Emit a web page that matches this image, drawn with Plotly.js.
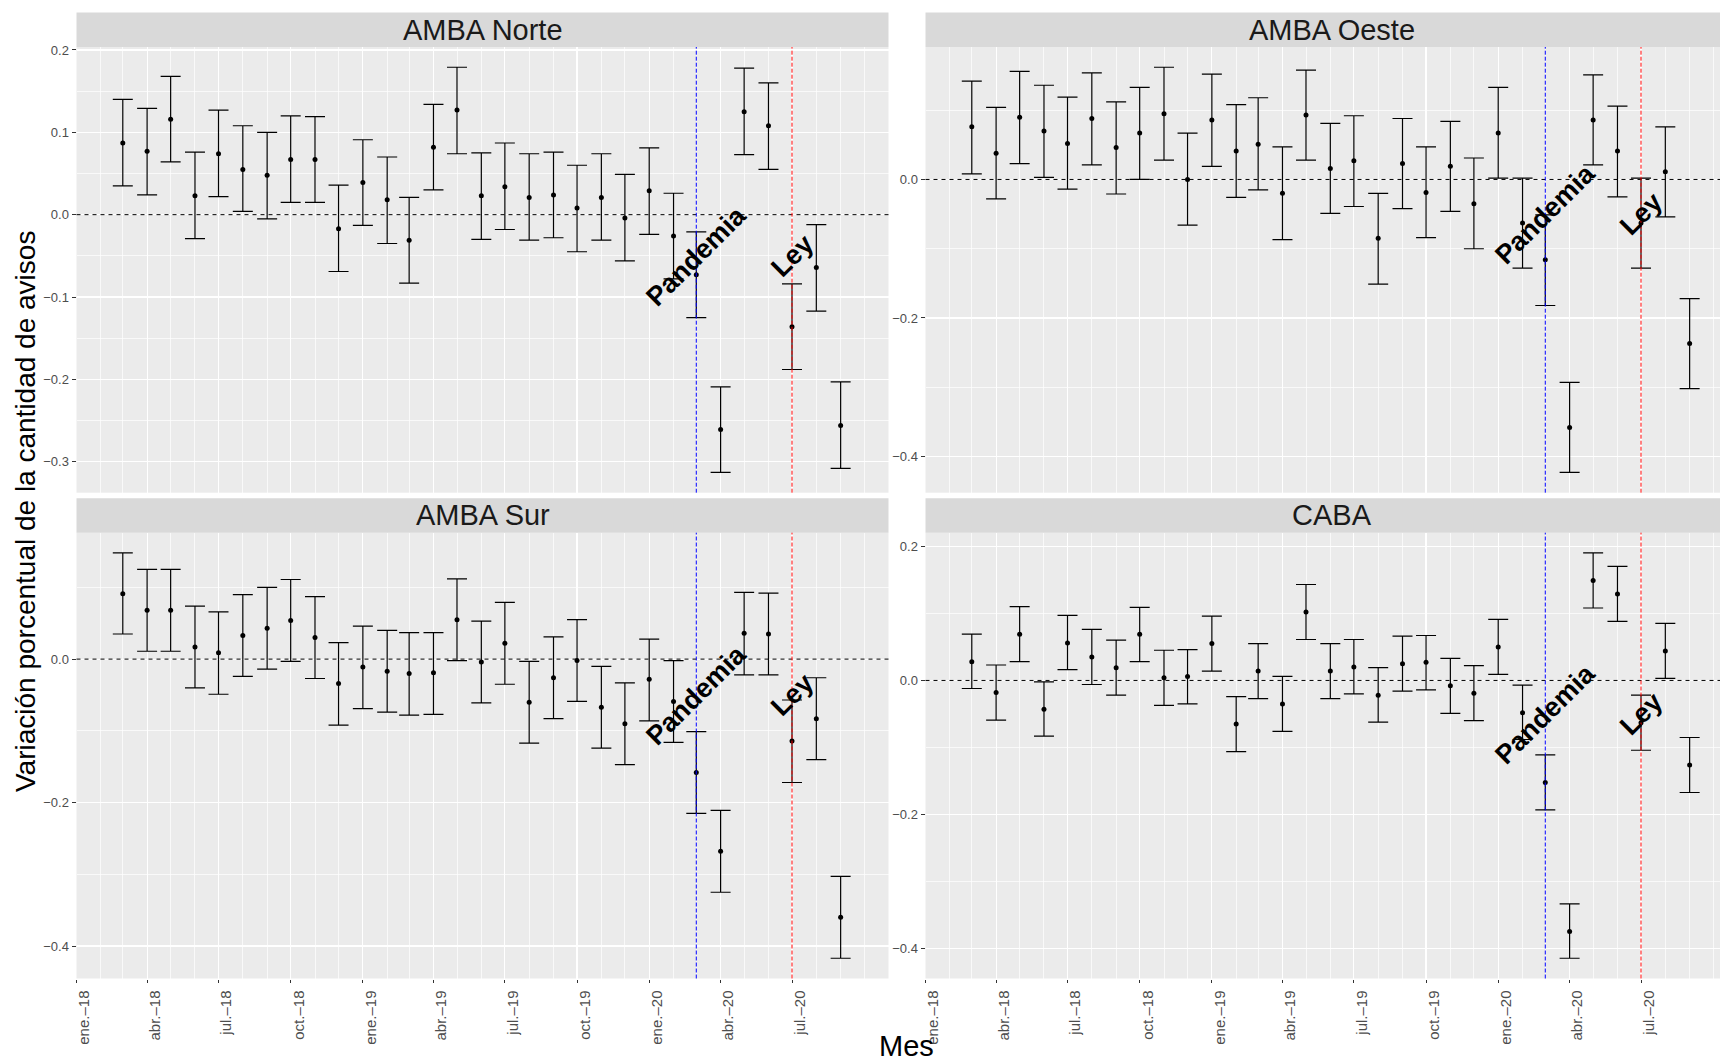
<!DOCTYPE html>
<html>
<head>
<meta charset="utf-8">
<script src="https://cdn.plot.ly/plotly-3.0.1.min.js"></script>
<style>
html,body{margin:0;padding:0;background:#fff;}
#chart{width:1720px;height:1062px;}
</style>
</head>
<body>
<div id="chart"></div>
<script>
// ---------- DATA ----------
const months = ['2018-03-01','2018-04-01','2018-05-01','2018-06-01','2018-07-01','2018-08-01','2018-09-01','2018-10-01','2018-11-01','2018-12-01',
  '2019-01-01','2019-02-01','2019-03-01','2019-04-01','2019-05-01','2019-06-01','2019-07-01','2019-08-01','2019-09-01','2019-10-01','2019-11-01','2019-12-01',
  '2020-01-01','2020-02-01','2020-03-01','2020-04-01','2020-05-01','2020-06-01','2020-07-01','2020-08-01','2020-09-01'];

const regions = ['AMBA Norte','AMBA Oeste','AMBA Sur','CABA'];

const norteMean  = [0.087,0.077,0.116,0.023,0.074,0.055,0.048,0.067,0.067,-0.017,0.039,0.018,-0.031,0.082,0.127,0.023,0.034,0.021,0.024,0.008,0.021,-0.004,0.029,-0.026,-0.073,-0.261,0.125,0.108,-0.136,-0.064,-0.256];
const norteLower = [0.035,0.024,0.064,-0.029,0.022,0.004,-0.005,0.015,0.015,-0.069,-0.013,-0.035,-0.083,0.030,0.074,-0.030,-0.018,-0.031,-0.028,-0.045,-0.031,-0.056,-0.024,-0.078,-0.125,-0.313,0.073,0.055,-0.188,-0.117,-0.308];
const norteUpper = [0.140,0.129,0.168,0.076,0.127,0.108,0.100,0.120,0.119,0.036,0.091,0.070,0.021,0.134,0.179,0.075,0.087,0.074,0.076,0.060,0.074,0.049,0.081,0.026,-0.021,-0.209,0.178,0.160,-0.084,-0.012,-0.203];

const oesteMean  = [0.076,0.038,0.090,0.070,0.052,0.088,0.046,0.067,0.095,0.000,0.086,0.041,0.051,-0.020,0.093,0.016,0.027,-0.085,0.023,-0.019,0.019,-0.035,0.067,-0.063,-0.116,-0.358,0.086,0.041,-0.063,0.011,-0.237];
const oesteLower = [0.008,-0.028,0.023,0.003,-0.014,0.021,-0.021,0.000,0.028,-0.066,0.019,-0.026,-0.015,-0.087,0.028,-0.049,-0.039,-0.151,-0.042,-0.084,-0.046,-0.100,0.002,-0.128,-0.182,-0.423,0.021,-0.025,-0.128,-0.054,-0.302];
const oesteUpper = [0.142,0.104,0.156,0.136,0.119,0.154,0.112,0.133,0.162,0.067,0.152,0.108,0.118,0.047,0.158,0.081,0.092,-0.020,0.088,0.047,0.084,0.031,0.133,0.002,-0.051,-0.293,0.151,0.106,0.002,0.076,-0.172];

const surMean  = [0.091,0.068,0.068,0.017,0.009,0.033,0.043,0.054,0.030,-0.034,-0.011,-0.017,-0.020,-0.019,0.055,-0.004,0.022,-0.060,-0.026,-0.002,-0.067,-0.090,-0.028,-0.059,-0.158,-0.268,0.036,0.035,-0.114,-0.083,-0.360];
const surLower = [0.035,0.011,0.011,-0.040,-0.049,-0.024,-0.014,-0.003,-0.027,-0.092,-0.069,-0.074,-0.078,-0.077,-0.002,-0.061,-0.035,-0.117,-0.083,-0.059,-0.124,-0.147,-0.086,-0.116,-0.215,-0.325,-0.022,-0.022,-0.172,-0.140,-0.417];
const surUpper = [0.148,0.125,0.125,0.074,0.066,0.090,0.100,0.111,0.087,0.023,0.046,0.040,0.037,0.037,0.112,0.053,0.079,-0.003,0.031,0.055,-0.010,-0.033,0.028,-0.002,-0.101,-0.211,0.093,0.092,-0.057,-0.026,-0.303];

const cabaMean  = [0.028,-0.018,0.069,-0.043,0.056,0.035,0.019,0.069,0.004,0.006,0.055,-0.065,0.014,-0.035,0.102,0.014,0.020,-0.022,0.025,0.027,-0.008,-0.019,0.050,-0.048,-0.152,-0.374,0.149,0.129,-0.063,0.044,-0.126];
const cabaLower = [-0.012,-0.059,0.028,-0.083,0.016,-0.006,-0.022,0.028,-0.037,-0.035,0.014,-0.106,-0.027,-0.076,0.061,-0.027,-0.020,-0.062,-0.016,-0.014,-0.049,-0.060,0.009,-0.088,-0.193,-0.414,0.108,0.088,-0.104,0.003,-0.167];
const cabaUpper = [0.069,0.023,0.110,-0.002,0.097,0.076,0.060,0.109,0.045,0.046,0.096,-0.024,0.055,0.006,0.143,0.055,0.061,0.019,0.066,0.067,0.033,0.022,0.091,-0.007,-0.111,-0.333,0.190,0.170,-0.022,0.085,-0.085];

const tickVals  = ['2018-01-01','2018-04-01','2018-07-01','2018-10-01','2019-01-01','2019-04-01','2019-07-01','2019-10-01','2020-01-01','2020-04-01','2020-07-01'];
const tickLabels = ['ene.–18','abr.–18','jul.–18','oct.–18','ene.–19','abr.–19','jul.–19','oct.–19','ene.–20','abr.–20','jul.–20'];

const eventDates  = ['2020-03-01','2020-07-01'];
const eventLabels = ['Pandemia','Ley'];
const eventY = -0.05;

const yTitle = 'Variación porcentual de la cantidad de avisos';
const xTitle = 'Mes';

// ---------- LAYOUT GEOMETRY ----------
const W = 1720, H = 1062;
const px = v => v / W;
const py = v => 1 - v / H;
const colX = [[76.5, 888.5], [925.5, 1720]];   // left, right panel (right cropped at page edge)
const rowY = [[47, 492.7], [532.7, 978.5]];     // top, bottom panel
const stripH = 34.5;
const fontFam = '"Liberation Sans", Arial, Helvetica, sans-serif';

const xStart = Date.UTC(2018, 0, 1), xEndFull = Date.UTC(2020, 10, 1);
const msPerPx = (xEndFull - xStart) / (colX[0][1] - colX[0][0]);
const iso = ms => new Date(ms).toISOString().slice(0, 19).replace('T', ' ');
const xRanges = [
  [iso(xStart), iso(xEndFull)],
  [iso(xStart), iso(xStart + (colX[1][1] - colX[1][0]) * msPerPx)]
];

const panels = [
  {name: regions[0], mean: norteMean, lower: norteLower, upper: norteUpper, col: 0, row: 0, dtick: 0.1},
  {name: regions[1], mean: oesteMean, lower: oesteLower, upper: oesteUpper, col: 1, row: 0, dtick: 0.2},
  {name: regions[2], mean: surMean,   lower: surLower,   upper: surUpper,   col: 0, row: 1, dtick: 0.2},
  {name: regions[3], mean: cabaMean,  lower: cabaLower,  upper: cabaUpper,  col: 1, row: 1, dtick: 0.2}
];

const traces = [];
const layout = {
  width: W, height: H,
  margin: {l: 0, r: 0, t: 0, b: 0},
  paper_bgcolor: 'white',
  plot_bgcolor: '#ebebeb',
  showlegend: false,
  font: {family: fontFam},
  shapes: [],
  annotations: []
};

panels.forEach((p, i) => {
  const n = i + 1;
  const xa = 'x' + (n === 1 ? '' : n), ya = 'y' + (n === 1 ? '' : n);
  const xk = 'xaxis' + (n === 1 ? '' : n), yk = 'yaxis' + (n === 1 ? '' : n);
  const lo = Math.min(...p.lower), hi = Math.max(...p.upper);
  const pad = (hi - lo) * 0.05;
  const cx = colX[p.col], ry = rowY[p.row];

  traces.push({
    type: 'scatter', mode: 'markers',
    x: months, y: p.mean, xaxis: xa, yaxis: ya,
    marker: {color: 'black', size: 5},
    error_y: {
      type: 'data', symmetric: false,
      array: p.upper.map((u, k) => u - p.mean[k]),
      arrayminus: p.mean.map((m, k) => m - p.lower[k]),
      color: 'black', thickness: 1.2, width: 10
    },
    hoverinfo: 'skip', cliponaxis: true
  });

  const bottom = p.row === 1;
  layout[xk] = {
    type: 'date', domain: [px(cx[0]), px(cx[1])], range: xRanges[p.col],
    anchor: ya,
    tickmode: 'array', tickvals: tickVals, ticktext: tickLabels,
    showticklabels: bottom, ticks: bottom ? 'outside' : '', ticklen: 3, tickcolor: '#333333', tickwidth: 1,
    tickangle: -90, ticklabelshift: 8, ticklabelstandoff: 2,
    tickfont: {size: 15, color: '#4d4d4d', family: fontFam},
    showgrid: true, gridcolor: 'white', gridwidth: 1.1,
    minor: {dtick: 'M1', tick0: '2018-01-01', showgrid: true, gridcolor: 'white', gridwidth: 0.7, ticks: ''},
    zeroline: false, showline: false, fixedrange: true
  };
  layout[yk] = {
    domain: [py(ry[1]), py(ry[0])], range: [lo - pad, hi + pad],
    anchor: xa,
    tickmode: 'linear', tick0: 0, dtick: p.dtick, tickformat: '.1f',
    ticks: 'outside', ticklen: 4, tickcolor: '#333333', tickwidth: 1,
    tickfont: {size: 13, color: '#4d4d4d', family: fontFam},
    showgrid: true, gridcolor: 'white', gridwidth: 1.1,
    minor: {dtick: p.dtick / 2, tick0: 0, showgrid: true, gridcolor: 'white', gridwidth: 0.7, ticks: ''},
    zeroline: false, showline: false, fixedrange: true
  };

  // strip
  layout.shapes.push({
    type: 'rect', xref: 'paper', yref: 'paper', layer: 'below',
    x0: px(cx[0]), x1: px(cx[1]), y0: py(ry[0]), y1: py(ry[0] - stripH),
    fillcolor: '#d9d9d9', line: {width: 0}
  });
  const fullRight = cx[0] + (xEndFull - xStart) / msPerPx;
  layout.annotations.push({
    xref: 'paper', yref: 'paper',
    x: px((cx[0] + fullRight) / 2), y: py(ry[0] - stripH / 2),
    text: p.name, showarrow: false, xanchor: 'center', yanchor: 'middle',
    font: {size: 29, color: '#1a1a1a', family: fontFam}
  });

  // zero dashed line
  layout.shapes.push({
    type: 'line', xref: xa + ' domain', yref: ya, x0: 0, x1: 1, y0: 0, y1: 0,
    line: {color: 'black', width: 1, dash: '4px,4px'}
  });
  // event lines
  const evColors = ['blue', 'red'];
  eventDates.forEach((d, k) => {
    layout.shapes.push({
      type: 'line', xref: xa, yref: ya + ' domain', x0: d, x1: d, y0: 0, y1: 1,
      line: {color: evColors[k], width: 1, dash: '4px,2px'}
    });
    layout.annotations.push({
      xref: xa, yref: ya, x: d, y: eventY, text: eventLabels[k],
      showarrow: false, textangle: -45, xanchor: 'center', yanchor: 'middle',
      font: {size: 27, color: 'black', family: fontFam, weight: 'bold'}
    });
  });
});

// axis titles
layout.annotations.push({
  xref: 'paper', yref: 'paper', x: px(26), y: py(512), text: yTitle,
  textangle: -90, showarrow: false, xanchor: 'center', yanchor: 'middle',
  font: {size: 28, color: 'black', family: fontFam}
});
layout.annotations.push({
  xref: 'paper', yref: 'paper', x: px(906), y: py(1046), text: xTitle,
  showarrow: false, xanchor: 'center', yanchor: 'middle',
  font: {size: 29, color: 'black', family: fontFam}
});

Plotly.newPlot('chart', traces, layout, {staticPlot: true, displayModeBar: false});
</script>
</body>
</html>
